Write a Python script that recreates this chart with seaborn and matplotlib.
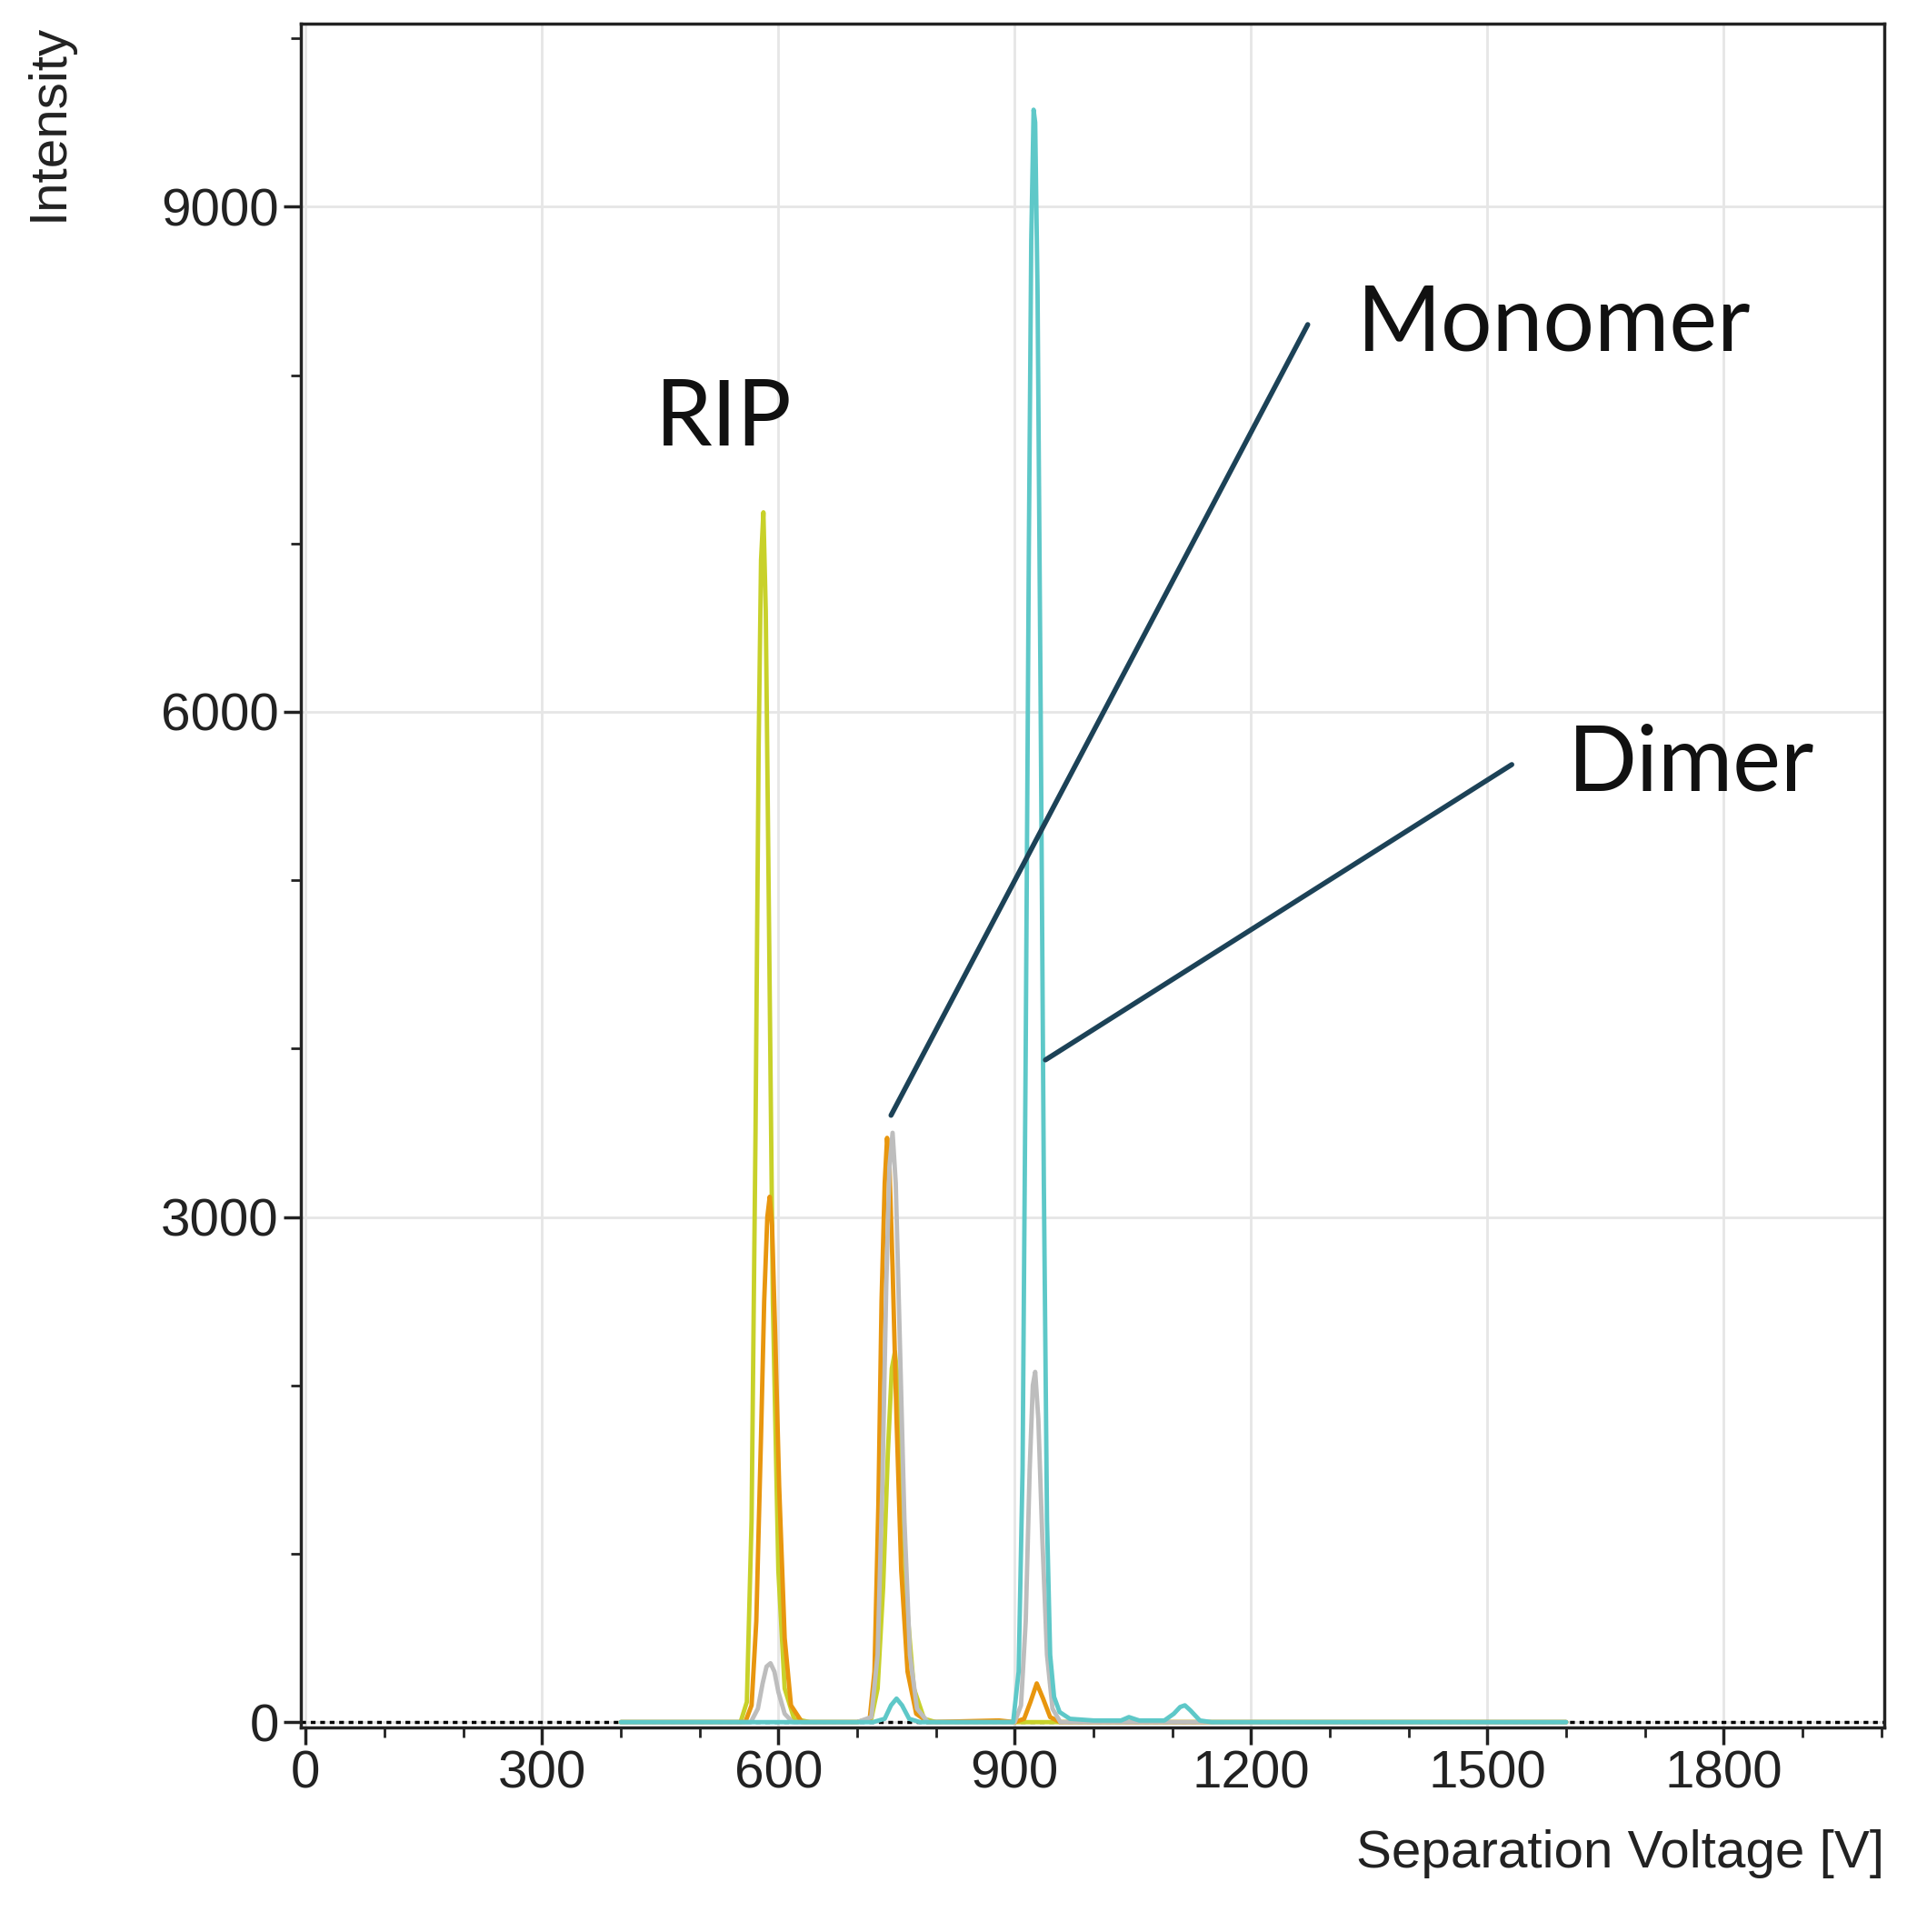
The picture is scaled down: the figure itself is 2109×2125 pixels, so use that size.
import matplotlib
matplotlib.use("Agg")
import matplotlib.pyplot as plt
import seaborn as sns
import pandas as pd
from matplotlib.ticker import MultipleLocator

sns.set_theme(style="white")
plt.rcParams['font.family'] = ['Liberation Sans', 'DejaVu Sans']

# Series (separation voltage, intensity)
yellow_x = [400, 552, 560, 566, 571, 575, 578, 581, 584, 588, 593, 600, 608, 620, 640, 700, 718, 726, 733, 739, 744, 748, 752, 757, 763, 772, 785, 800, 1600]
yellow_y = [0, 0, 120, 1200, 3500, 5800, 6900, 7185, 6600, 4800, 2500, 900, 200, 20, 0, 0, 20, 200, 800, 1600, 2100, 2200, 2000, 1400, 700, 200, 20, 0, 0]
orange_x = [400, 558, 566, 572, 578, 582, 586, 589, 592, 596, 601, 608, 616, 630, 700, 716, 722, 727, 731, 735, 738, 741, 745, 750, 756, 764, 775, 790, 880, 900, 912, 920, 928, 936, 945, 958, 1600]
orange_y = [0, 0, 100, 600, 1700, 2500, 3000, 3120, 2950, 2300, 1400, 500, 100, 0, 0, 20, 300, 1300, 2500, 3200, 3470, 3300, 2700, 1800, 900, 300, 50, 0, 10, 0, 20, 120, 230, 140, 30, 0, 0]
gray_x = [400, 565, 574, 580, 585, 590, 595, 600, 608, 618, 700, 718, 726, 732, 737, 741, 745, 749, 754, 760, 767, 776, 790, 900, 908, 914, 919, 923, 926, 930, 935, 941, 948, 958, 1600]
gray_y = [0, 0, 80, 230, 330, 350, 300, 180, 50, 0, 0, 30, 400, 1400, 2600, 3300, 3500, 3200, 2300, 1200, 400, 80, 0, 0, 100, 600, 1500, 2000, 2080, 1800, 1100, 400, 80, 0, 0]
cyan_x = [400, 720, 735, 743, 750, 757, 766, 780, 898, 905, 910, 914, 918, 921, 924, 926, 929, 933, 937, 941, 945, 950, 957, 970, 1000, 1035, 1045, 1058, 1090, 1102, 1110, 1116, 1123, 1135, 1150, 1600]
cyan_y = [0, 0, 20, 100, 140, 100, 20, 0, 0, 300, 1500, 4000, 7000, 8800, 9576, 9500, 8500, 6000, 3200, 1200, 400, 150, 60, 20, 10, 10, 30, 10, 10, 50, 90, 100, 70, 10, 0, 0]

series = [("yellow", yellow_x, yellow_y, "#c8d12a"),
          ("orange", orange_x, orange_y, "#e8960e"),
          ("gray", gray_x, gray_y, "#bdbdbd"),
          ("cyan", cyan_x, cyan_y, "#5ec8c8")]

fig = plt.figure(figsize=(21.09, 21.25), dpi=100)
ax = fig.add_axes([0.157, 0.106, 0.826, 0.882])

for name, xs, ys, col in series:
    df = pd.DataFrame({"x": xs, "y": ys})
    sns.lineplot(data=df, x="x", y="y", ax=ax, color=col, lw=3.5, sort=False, estimator=None)

ax.axhline(0, color="black", lw=2.5, ls=(0, (1.5, 1.5)), zorder=1)

ax.set_xlim(-6, 2004)
ax.set_ylim(-30, 10090)
ax.xaxis.set_major_locator(MultipleLocator(300))
ax.xaxis.set_minor_locator(MultipleLocator(100))
ax.yaxis.set_major_locator(MultipleLocator(3000))
ax.yaxis.set_minor_locator(MultipleLocator(1000))
ax.grid(True, which="major", color="#e6e6e6", lw=2)
ax.tick_params(which="major", direction="out", length=14, width=2.5, labelsize=42, bottom=True, left=True, colors="#222222")
ax.tick_params(which="minor", direction="out", length=8, width=2, bottom=True, left=True, colors="#222222")
for s in ax.spines.values():
    s.set_color("#222222")
    s.set_linewidth(2.5)

ax.set_xlabel("Separation Voltage [V]", fontsize=42, color="#222222")
ax.set_ylabel("Intensity", fontsize=42, color="#222222")
ax.xaxis.set_label_coords(1.0, -0.06)
ax.xaxis.label.set_ha("right")
ax.yaxis.set_label_coords(-0.175, 1.0)
ax.yaxis.label.set_va("top")
ax.yaxis.label.set_ha("right")

line_col = "#1c4257"
ax.plot([743, 1272], [3604, 8300], color=line_col, lw=4)
ax.plot([939, 1531], [3933, 5687], color=line_col, lw=4)
fam = ['Lato', 'DejaVu Sans']
ax.text(1335, 8300, "Monomer", fontsize=72, va="center", ha="left", family=fam, color="#111111")
ax.text(1602, 5687, "Dimer", fontsize=72, va="center", ha="left", family=fam, color="#111111")
ax.text(444, 7734, "RIP", fontsize=72, va="center", ha="left", family=fam, color="#111111")

fig.savefig("out.png", dpi=100)
